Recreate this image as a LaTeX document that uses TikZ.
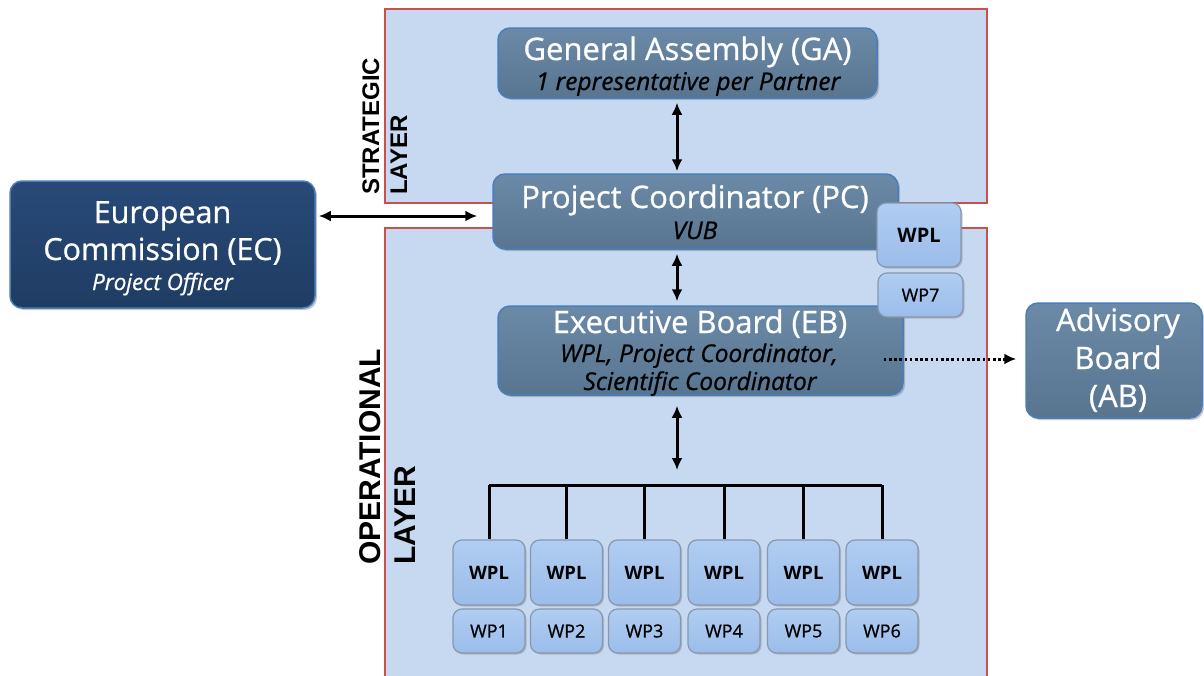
\documentclass[tikz,border=0pt]{standalone}
\usepackage{fontspec}
\setmainfont{Open Sans}
\newfontfamily\boxfont[FakeBold=0.8]{Open Sans}
\newfontfamily\labelfont{Liberation Sans}
\usetikzlibrary{shadows,arrows.meta,calc}
\definecolor{layerfill}{HTML}{C6D9F0}
\definecolor{layerline}{HTML}{C9504D}
\definecolor{steeltop}{HTML}{6B8AA7}
\definecolor{steelbot}{HTML}{587590}
\definecolor{steelline}{HTML}{4A7EBB}
\definecolor{navy}{HTML}{1F3C63}
\definecolor{navytop}{HTML}{284A78}
\definecolor{wpfill}{HTML}{9BBDEA}
\definecolor{wptop}{HTML}{B0CDF2}
\definecolor{wpline}{HTML}{8797AC}
\tikzset{
  layer/.style={fill=layerfill, draw=layerline, line width=1.6pt},
  bigbox/.style={rounded corners=12pt, draw=steelline, line width=1.5pt,
    top color=steeltop, bottom color=steelbot, inner sep=0pt,
    drop shadow={shadow xshift=2pt, shadow yshift=-2pt, opacity=.45}},
  ecbox/.style={bigbox, top color=navytop, bottom color=navy},
  wpbox/.style={rounded corners=9pt, draw=wpline, line width=1.2pt,
    top color=wptop, bottom color=wpfill, text=black, inner sep=0pt,
    drop shadow={shadow xshift=1.5pt, shadow yshift=-1.5pt, opacity=.4}},
  wplbox/.style={wpbox, minimum width=72pt, minimum height=65pt, font=\fontsize{18.5}{20}\selectfont\bfseries},
  wpnbox/.style={wpbox, minimum width=72pt, minimum height=44pt, font=\boxfont\fontsize{18}{20}\selectfont},
  title/.style={anchor=base, inner sep=0pt, text=white, font=\boxfont\fontsize{31}{31}\selectfont},
  sub/.style={anchor=base, inner sep=0pt, text=black, font=\boxfont\fontsize{24.5}{25}\selectfont\itshape},
  dbl/.style={{Latex[length=12pt,width=11pt]}-{Latex[length=12pt,width=11pt]}, line width=3pt},
  dotarrow/.style={-{Latex[length=12pt,width=11pt]}, line width=3pt, dash pattern=on 2.6pt off 2.6pt},
  busline/.style={line width=3pt},
  layerlbl/.style={rotate=90, anchor=base west, inner sep=0pt}
}
\begin{document}
\begin{tikzpicture}[x=1pt,y=-1pt]
\useasboundingbox (0,0) rectangle (1204,675);

% the two layers
\draw[layer] (385,9) rectangle (987,203);
\draw[layer] (385,228) rectangle (987,690);

\node[layerlbl, font=\labelfont\bfseries\fontsize{24}{24}\selectfont] (strA) at (379,195) {STRATEGIC};
\node[layerlbl, font=\labelfont\bfseries\fontsize{24}{24}\selectfont] (strB) at (407,195) {LAYER};
\node[layerlbl, font=\labelfont\bfseries\fontsize{30}{30}\selectfont] (opA) at (380,565) {OPERATIONAL};
\node[layerlbl, font=\labelfont\bfseries\fontsize{30}{30}\selectfont] (opB) at (415,565) {LAYER};

% governance bodies
\node[bigbox, minimum width=379pt, minimum height=70pt] (ga) at (687.5,63) {};
\node[title] (gaT) at (687.5,60) {General Assembly (GA)};
\node[sub] (gaS) at (688,90) {1 representative per Partner};

\node[bigbox, minimum width=405pt, minimum height=75pt] (pc) at (695.5,211.5) {};
\node[title] (pcT) at (695,208) {Project Coordinator (PC)};
\node[sub] (pcS) at (695,239) {VUB};

\node[bigbox, minimum width=405pt, minimum height=89pt] (eb) at (700.5,350.5) {};
\node[title] (ebT) at (700,333) {Executive Board (EB)};
\node[sub] (ebS1) at (699,362) {WPL, Project Coordinator,};
\node[sub] (ebS2) at (700,390) {Scientific Coordinator};

\node[ecbox, minimum width=305pt, minimum height=127pt] (ec) at (162.5,244.5) {};
\node[title, font=\boxfont\fontsize{30.5}{31}\selectfont] (ecT1) at (162.5,223) {European};
\node[title, font=\boxfont\fontsize{30.5}{31}\selectfont] (ecT2) at (162.5,260) {Commission (EC)};
\node[sub, text=white, font=\boxfont\fontsize{22.5}{24}\selectfont\itshape] (ecS) at (162.5,290) {Project Officer};

\node[bigbox, minimum width=176pt, minimum height=115pt] (ab) at (1114,360.5) {};
\node[title] (abT1) at (1118,331) {Advisory};
\node[title] (abT2) at (1118,369) {Board};
\node[title] (abT3) at (1118,407) {(AB)};

% WP7 leader attached to the coordinator
\node[wplbox, minimum width=84pt, minimum height=64pt, font=\fontsize{20}{20}\selectfont\bfseries] (wpl7) at (919,235) {WPL};
\node[wpnbox, minimum width=85pt] (wp7) at (920.5,295) {WP7};

% work packages
\foreach \i/\cx in {1/489,2/566.5,3/644.5,4/724,5/803.5,6/882}{
  \node[wplbox] (wpl\i) at (\cx,572.5) {WPL};
  \node[wpnbox] (wp\i) at (\cx,631) {WP\i};
}

% connectors
\coordinate (spine) at (677,0);
\coordinate (ecrow) at (0,216);
\coordinate (dotrow) at (0,359);
\coordinate (busL) at (489,485);
\coordinate (busR) at (882,485);
\draw[dbl, shorten <=4pt, shorten >=2pt] (ga.south -| spine) -- (pc.north -| spine);
\draw[dbl, shorten <=4pt, shorten >=4pt] (pc.south -| spine) -- (eb.north -| spine);
\draw[dbl, shorten <=10pt, shorten >=15pt] (eb.south -| spine) -- (busL -| spine);
\draw[dbl, shorten <=3pt, shorten >=15pt] (ec.east |- ecrow) -- (pc.west |- ecrow);
\draw[dotarrow, shorten <=-20pt, shorten >=9pt] (eb.east |- dotrow) -- (ab.west |- dotrow);
\draw[busline] (busL) -- (busR);
\foreach \i in {1,...,6}{
  \draw[busline] (wpl\i.north |- busL) -- (wpl\i.north);
}
\end{tikzpicture}
\end{document}
